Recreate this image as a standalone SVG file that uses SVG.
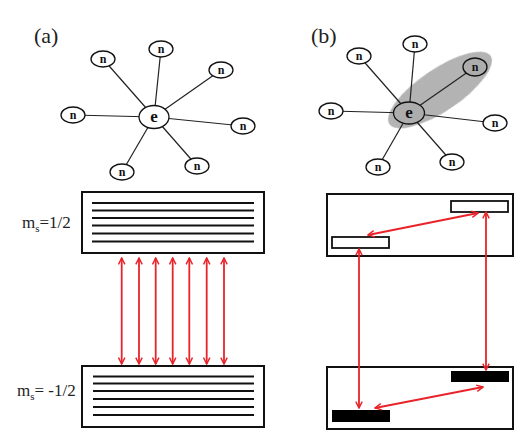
<svg xmlns="http://www.w3.org/2000/svg" width="523" height="434" viewBox="0 0 523 434">
<style>
.lbl{font-family:"Liberation Serif",serif;font-size:22px;fill:#222}
.nt{font-family:"Liberation Serif",serif;font-size:12px;font-weight:bold;text-anchor:middle;fill:#111}
.et{font-family:"Liberation Serif",serif;font-size:17px;font-weight:bold;text-anchor:middle;fill:#111}
.node{fill:#fff;stroke:#111;stroke-width:1.3}
.gfill{fill:#ababab;filter:url(#speckle)}
.gnode{fill:none;stroke:#111;stroke-width:1.3}
.edge{stroke:#222;stroke-width:1.2}
.box{fill:#fff;stroke:#111;stroke-width:2}
.lev{stroke:#111;stroke-width:2}
.arr{stroke:#e8232a;stroke-width:1.8;fill:none;marker-start:url(#ah);marker-end:url(#ah)}
.ms{font-family:"Liberation Serif",serif;font-size:17px;fill:#222}
</style>
<defs>
<marker id="ah" viewBox="0 0 10 10" refX="9" refY="5" markerWidth="8" markerHeight="8" markerUnits="userSpaceOnUse" orient="auto-start-reverse">
<path d="M1,1 L9,5 L1,9" fill="none" stroke="#e8232a" stroke-width="1.8"/>
</marker>
<filter id="speckle" x="0" y="0" width="100%" height="100%">
<feTurbulence type="fractalNoise" baseFrequency="0.9" numOctaves="2" seed="3" result="noise"/>
<feColorMatrix in="noise" type="matrix" values="0 0 0 0 0.45  0 0 0 0 0.45  0 0 0 0 0.45  0 0 0 1.6 -0.55" result="dots"/>
<feComposite in="dots" in2="SourceGraphic" operator="in" result="clipped"/>
<feMerge><feMergeNode in="SourceGraphic"/><feMergeNode in="clipped"/></feMerge>
</filter>
</defs>
<rect width="523" height="434" fill="#fff"/>

<text class="lbl" x="34" y="43">(a)</text>
<text class="lbl" x="311" y="43">(b)</text>

<!-- panel a connectors -->
<g id="edges-a">
<line class="edge" x1="154" y1="117" x2="103" y2="59"/>
<line class="edge" x1="154" y1="117" x2="161" y2="49"/>
<line class="edge" x1="154" y1="117" x2="221" y2="70"/>
<line class="edge" x1="154" y1="117" x2="73" y2="115"/>
<line class="edge" x1="154" y1="117" x2="243" y2="126"/>
<line class="edge" x1="154" y1="117" x2="197" y2="166"/>
<line class="edge" x1="154" y1="117" x2="122" y2="172"/>
</g>
<g id="a-e"><ellipse class="node" cx="154" cy="117" rx="15" ry="11.5"/><text class="et" x="154" y="122">e</text></g>
<g id="a-n1"><ellipse class="node" cx="103" cy="59" rx="12" ry="8"/><text class="nt" x="103" y="63">n</text></g>
<g id="a-n2"><ellipse class="node" cx="161" cy="49" rx="12" ry="8"/><text class="nt" x="161" y="53">n</text></g>
<g id="a-n3"><ellipse class="node" cx="221" cy="70" rx="12" ry="8"/><text class="nt" x="221" y="74">n</text></g>
<g id="a-n4"><ellipse class="node" cx="73" cy="115" rx="12" ry="8"/><text class="nt" x="73" y="119">n</text></g>
<g id="a-n5"><ellipse class="node" cx="243" cy="126" rx="12" ry="8"/><text class="nt" x="243" y="130">n</text></g>
<g id="a-n6"><ellipse class="node" cx="197" cy="166" rx="12" ry="8"/><text class="nt" x="197" y="170">n</text></g>
<g id="a-n7"><ellipse class="node" cx="122" cy="172" rx="12" ry="8"/><text class="nt" x="122" y="176">n</text></g>

<!-- panel b -->
<ellipse id="b-cluster" cx="440" cy="90" rx="61" ry="21" transform="rotate(-34 440 90)" fill="#b4b4b4" filter="url(#speckle)"/>
<g id="edges-b">
<line class="edge" x1="409" y1="113" x2="359" y2="56"/>
<line class="edge" x1="409" y1="113" x2="415" y2="44"/>
<line class="edge" x1="409" y1="113" x2="475" y2="67"/>
<line class="edge" x1="409" y1="113" x2="331" y2="111"/>
<line class="edge" x1="409" y1="113" x2="495" y2="123"/>
<line class="edge" x1="409" y1="113" x2="452" y2="162"/>
<line class="edge" x1="409" y1="113" x2="378" y2="167"/>
</g>
<g id="b-e"><ellipse class="gfill" cx="409" cy="113" rx="15.5" ry="11"/><ellipse class="gnode" cx="409" cy="113" rx="15.5" ry="11"/><text class="et" x="409" y="118">e</text></g>
<g id="b-n1"><ellipse class="node" cx="359" cy="56" rx="12" ry="8"/><text class="nt" x="359" y="60">n</text></g>
<g id="b-n2"><ellipse class="node" cx="415" cy="44" rx="12" ry="8"/><text class="nt" x="415" y="48">n</text></g>
<g id="b-n3"><ellipse class="gfill" cx="475" cy="67" rx="12" ry="9"/><ellipse class="gnode" cx="475" cy="67" rx="12" ry="9"/><text class="nt" x="475" y="71">n</text></g>
<g id="b-n4"><ellipse class="node" cx="331" cy="111" rx="12" ry="8"/><text class="nt" x="331" y="115">n</text></g>
<g id="b-n5"><ellipse class="node" cx="495" cy="123" rx="12" ry="8"/><text class="nt" x="495" y="127">n</text></g>
<g id="b-n6"><ellipse class="node" cx="452" cy="162" rx="12" ry="8"/><text class="nt" x="452" y="166">n</text></g>
<g id="b-n7"><ellipse class="node" cx="378" cy="167" rx="12" ry="8"/><text class="nt" x="378" y="171">n</text></g>

<!-- energy levels a -->
<text class="ms" x="22" y="228">m<tspan font-size="11" dy="4">s</tspan><tspan dy="-4">=1/2</tspan></text>
<text class="ms" x="17" y="396">m<tspan font-size="11" dy="4">s</tspan><tspan dy="-4">= -1/2</tspan></text>
<g id="a-upper">
<rect class="box" x="82" y="192" width="182" height="61"/>
<line class="lev" x1="92" y1="203" x2="254" y2="203"/>
<line class="lev" x1="92" y1="210.5" x2="254" y2="210.5"/>
<line class="lev" x1="92" y1="218" x2="254" y2="218"/>
<line class="lev" x1="92" y1="225.5" x2="254" y2="225.5"/>
<line class="lev" x1="92" y1="233.5" x2="254" y2="233.5"/>
<line class="lev" x1="92" y1="241.5" x2="254" y2="241.5"/>
</g>
<g id="a-lower">
<rect class="box" x="82" y="366" width="182" height="61"/>
<line class="lev" x1="93" y1="376.5" x2="254" y2="376.5"/>
<line class="lev" x1="93" y1="383.5" x2="254" y2="383.5"/>
<line class="lev" x1="93" y1="391" x2="254" y2="391"/>
<line class="lev" x1="93" y1="399" x2="254" y2="399"/>
<line class="lev" x1="93" y1="407" x2="254" y2="407"/>
<line class="lev" x1="93" y1="415" x2="254" y2="415"/>
</g>

<!-- panel b levels -->
<g id="b-upper">
<rect class="box" x="327" y="194" width="186" height="62"/>
<rect id="b-lev1" x="451" y="201" width="57" height="11" fill="#fff" stroke="#111" stroke-width="1.8"/>
<rect id="b-lev2" x="332" y="237" width="57" height="11" fill="#fff" stroke="#111" stroke-width="1.8"/>
</g>
<g id="b-lower">
<rect class="box" x="327" y="367" width="186" height="62"/>
<rect id="b-lev3" x="451" y="371" width="58" height="11" fill="#000"/>
<rect id="b-lev4" x="332" y="410" width="58" height="12" fill="#000"/>
</g>

<g id="connectors">
<line class="arr" x1="121.7" y1="258" x2="121.7" y2="364"/>
<line class="arr" x1="139" y1="258" x2="139" y2="364"/>
<line class="arr" x1="155.7" y1="258" x2="155.7" y2="364"/>
<line class="arr" x1="172.7" y1="258" x2="172.7" y2="364"/>
<line class="arr" x1="189.3" y1="258" x2="189.3" y2="364"/>
<line class="arr" x1="206.7" y1="258" x2="206.7" y2="364"/>
<line class="arr" x1="224" y1="258" x2="224" y2="364"/>
<line class="arr" x1="368" y1="235" x2="478" y2="213"/>
<line class="arr" x1="359" y1="249" x2="359" y2="408"/>
<line class="arr" x1="486" y1="212" x2="486" y2="370"/>
<line class="arr" x1="375" y1="408" x2="483" y2="387"/>
</g>
</svg>
